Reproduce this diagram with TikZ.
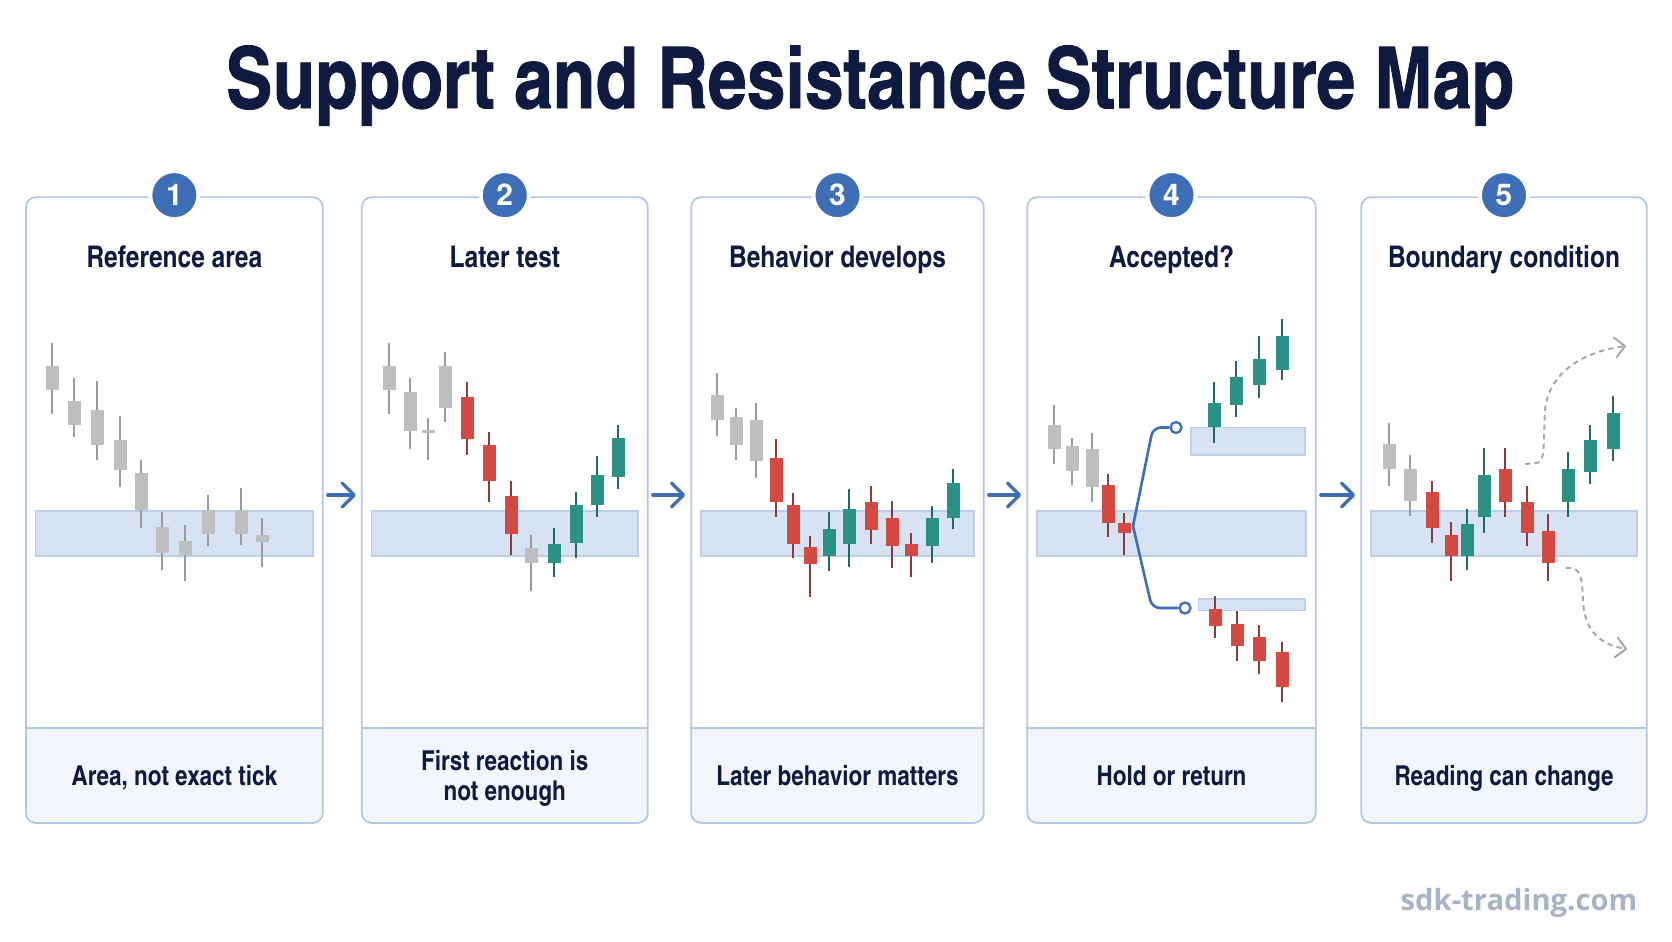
\documentclass[tikz,border=0pt]{standalone}
\usepackage{fontspec}
\setmainfont{TeX Gyre Heros}
\newfontfamily\cnfont{texgyreheroscn-bold.otf}
\newfontfamily\cnheavy{texgyreheroscn-bold.otf}[FakeBold=1]
\newfontfamily\wmfont{Open Sans}
\usepackage{tikz}
\usetikzlibrary{arrows.meta,positioning,calc}

\definecolor{navy}{HTML}{0E1A40}
\definecolor{mblue}{HTML}{3E6FB6}
\definecolor{edge}{HTML}{B3C6E2}
\definecolor{footbg}{HTML}{F2F5FA}
\definecolor{bandbg}{HTML}{D7E3F2}
\definecolor{bandln}{HTML}{BCCFE8}
\definecolor{cg}{HTML}{BFBFBF}
\definecolor{wg}{HTML}{9A9A9A}
\definecolor{cr}{HTML}{D44A42}
\definecolor{wr}{HTML}{8C3B35}
\definecolor{ct}{HTML}{2B9184}
\definecolor{wt}{HTML}{1D6B62}
\definecolor{site}{HTML}{A7B3C6}

\begin{document}
\begin{tikzpicture}[
  x=0.01cm, y=-0.01cm,
  panel/.style={draw=none,fill=white,minimum height=6.24cm,inner sep=0},
  pline/.style={draw=edge,line width=0.5pt},
  band/.style={fill=bandbg,draw=bandln,line width=0.4pt,inner sep=0,minimum height=0.45cm},
  badge/.style={circle,fill=mblue,draw=white,line width=1.1pt,minimum size=4.8mm,inner sep=0,
    text=white,font=\bfseries\fontsize{8.5}{10}\selectfont},
  ptitle/.style={anchor=base,text=navy,font=\cnfont\fontsize{8.5}{10}\selectfont},
  foot/.style={align=center,text=navy,font=\cnfont\fontsize{7.8}{8.3}\selectfont},
  wick/.style={line width=0.6pt},
  flow/.style={draw=mblue,line width=0.95pt,line cap=round,-{Straight Barb[length=1.2mm,width=2.4mm,round]}},
  branch/.style={draw=mblue,line width=0.75pt,rounded corners=0.08cm},
  knob/.style={circle,draw=mblue,fill=white,line width=0.65pt,minimum size=1.1mm,inner sep=0},
  dasharr/.style={draw=black!35,line width=0.55pt,dash pattern=on 1.5pt off 1.2pt,
    -{Straight Barb[length=1mm,width=2mm,round]}}
]
\useasboundingbox (0,0) rectangle (1672,941);
\fill[white] (0,0) rectangle (1672,941);

\node[anchor=base,text=navy,font=\cnheavy\fontsize{24.2}{28}\selectfont] (title) at (870,108)
  {Support and Resistance Structure Map};

% five panels
\foreach \n/\cx/\w/\ttl/\ft in {
  1/174.35/2.953cm/{Reference area}/{Area, not exact tick},
  2/504.8/2.844cm/{Later test}/{First reaction is\\not enough},
  3/837.5/2.91cm/{Behavior develops}/{Later behavior matters},
  4/1171.5/2.87cm/{Accepted?}/{Hold or return},
  5/1504/2.84cm/{Boundary condition}/{Reading can change}}{
  \node[panel,minimum width=\w] (p\n) at (\cx,510) {};
  \begin{scope}
    \clip[rounded corners=1mm] (p\n.south west) rectangle (p\n.north east);
    \fill[footbg] (p\n.south west) rectangle ([yshift=0.95cm]p\n.south east);
  \end{scope}
  \draw[pline] ([yshift=0.95cm]p\n.south west) -- ([yshift=0.95cm]p\n.south east);
  \draw[pline,rounded corners=1mm] (p\n.south west) rectangle (p\n.north east);
  \node[band,minimum width=\w-0.18cm] (z\n) at (\cx,533.5) {};
  \node[badge] (b\n) at ([yshift=0.02cm]p\n.north) {\n};
  \node[ptitle] (t\n) at ([yshift=-0.7cm]p\n.north) {\ttl};
  \node[foot] (f\n) at ([yshift=0.43cm]p\n.south) {\ft\strut};
}
\node[band,minimum width=1.14cm,minimum height=0.274cm] (hi) at (1248,441.1) {};
\node[band,minimum width=1.067cm,minimum height=0.116cm] (lo) at (1251.7,604.9) {};

% candles: x / wick top / body top / body bottom / wick bottom / colour
\foreach \x/\a/\b/\c/\d/\k in {
  52/343/366/390/414/g, 74/378/401/425/437/g, 97/381/410/445/460/g, 120/416/440/470/487/g,
  141/460/473/510/528/g, 162/512/527/553/570/g, 185/525/541/555/581/g, 208/495/510/534/546/g,
  241/488/510/534/545/g, 262/518/535/542/567/g,
  389/343/366/390/414/g, 410/378/392/431/449/g, 428/418/430/433/460/g, 445/352/366/408/422/g,
  467/382/397/439/455/r, 489/432/445/481/502/r, 511/481/496/534/555/r, 531/535/548/563/591/g,
  554/528/544/563/577/t, 576/492/505/543/558/t, 597/456/475/505/517/t, 618/425/438/477/489/t,
  717/373/395/420/436/g, 736/408/417/445/460/g, 756/403/420/461/478/g, 776/439/458/502/517/r,
  793/493/505/544/558/r, 810/536/547/564/597/r, 829/512/529/556/571/t, 849/489/509/544/567/t,
  871/486/502/530/544/r, 892/501/518/546/568/r, 911/533/544/556/577/r, 932/506/518/546/563/t,
  953/469/483/518/529/t,
  1054/405/425/449/464/g, 1072/438/446/471/485/g, 1092/433/449/487/502/g, 1108/474/485/523/537/r,
  1124/513/523/533/555/r, 1214/382/403/427/443/t, 1236/361/377/405/417/t, 1259/336/359/385/398/t,
  1282/319/336/370/380/t, 1215/596/609/626/638/r, 1237/611/624/646/661/r, 1259/625/637/661/674/r,
  1282/642/652/687/702/r,
  1389/423/444/469/486/g, 1410/455/469/501/516/g, 1432/481/492/528/543/r, 1451/522/535/556/581/r,
  1467/509/524/556/570/t, 1484/448/475/517/533/t, 1505/448/469/502/517/r, 1527/486/502/533/546/r,
  1548/514/531/563/581/r, 1568/452/469/502/517/t, 1590/425/440/472/484/t, 1613/396/413/449/461/t}{
  \draw[wick,draw=w\k] (\x,\a) -- (\x,\d);
  \fill[fill=c\k] (\x-6.5,\b) rectangle (\x+6.5,\c);
}

% hold or return
\coordinate (fork) at (1133,526);
\node[knob] (yes) at (1176,427.5) {};
\node[knob] (no) at (1185,608) {};
\draw[branch] (fork) -- (1153,427.5) -- (yes);
\draw[branch] (fork) -- (1152,608) -- (no);

% reading can change
\coordinate (ua) at (1525,464);
\coordinate (ub) at (1626,346);
\coordinate (da) at (1566,568);
\coordinate (db) at (1627,649);
\draw[dasharr] (ua) -- (1537,463) .. controls (1546,461) and (1543,440) .. (1545,412)
  .. controls (1547,375) and (1580,352) .. (ub);
\draw[dasharr] (da) .. controls (1582,566) and (1582,580) .. (1583,600)
  .. controls (1584,630) and (1600,645) .. (db);

\foreach \a/\b in {1/2,2/3,3/4,4/5}
  \draw[flow] ($(p\a.east)+(5,-15)$) -- ($(p\b.west)+(-6,-15)$);

\node[anchor=base,text=site,font=\wmfont\bfseries\fontsize{8.3}{10}\selectfont] (web) at (1519,910)
  {sdk-trading.com};
\end{tikzpicture}
\end{document}
